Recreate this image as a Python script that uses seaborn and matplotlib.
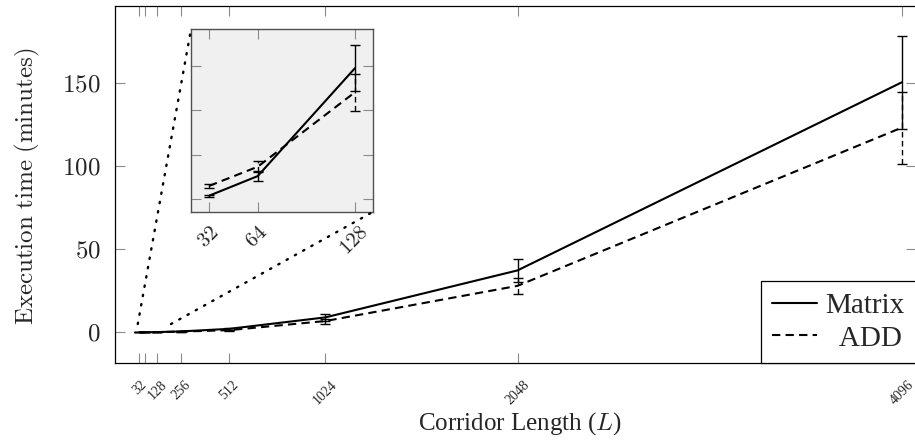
import matplotlib
matplotlib.use("Agg")
import matplotlib.pyplot as plt
import pandas as pd
import seaborn as sns
from matplotlib.patches import ConnectionPatch

corridor_length = [32, 64, 128, 256, 512, 1024, 2048, 4096]
matrix_time = [0.004, 0.026, 0.147, 0.55, 2.1, 9.0, 37.3, 150.6]
matrix_err = [0.001, 0.006, 0.026, 0.1, 0.4, 2.0, 7.0, 27.9]
add_time = [0.015, 0.0365, 0.12, 0.45, 1.3, 6.8, 28.0, 123.3]
add_err = [0.002, 0.006, 0.021, 0.08, 0.3, 1.5, 5.0, 21.7]
x_tick_labels = ["32", "", "128", "256", "512", "1024", "2048", "4096"]
y_ticks = [0, 50, 100, 150]
zoom_ticks = [32, 64, 128]
zoom_y_ticks = [0, 0.05, 0.10, 0.15]

DASH = (0, (4, 2.5))

sns.set_theme(style="ticks")
plt.rcParams["font.family"] = ["Liberation Serif", "DejaVu Serif"]
plt.rcParams["mathtext.fontset"] = "cm"

df = pd.DataFrame({
    "L": corridor_length * 2,
    "time": matrix_time + add_time,
    "err": matrix_err + add_err,
    "method": ["Matrix"] * len(corridor_length) + ["ADD"] * len(corridor_length),
})


def draw_series(ax, data, lw=1.5):
    styles = {"Matrix": "-", "ADD": DASH}
    for name, sub in data.groupby("method", sort=False):
        sns.lineplot(sub, x="L", y="time", color="black", lw=lw,
                     linestyle=styles[name], label=name, ax=ax)
        eb = ax.errorbar(sub["L"], sub["time"], yerr=sub["err"], fmt="none",
                         ecolor="black", elinewidth=1.0, capsize=3.6, capthick=1.0)
        if name == "ADD":
            eb[2][0].set_linestyle(DASH)


fig = plt.figure(figsize=(9.15, 4.41), dpi=100)
W, H = 915, 441

# main axes
ax = fig.add_axes([114.7 / W, 1 - 362.7 / H, (916 - 114.7) / W, (362.7 - 6) / H])
draw_series(ax, df)
ax.set_xlim(-99, 4172)
ax.set_ylim(-18.3, 196.6)
ax.set_xticks(corridor_length)
ax.set_xticklabels(x_tick_labels, rotation=45, ha="center", fontsize=10)
ax.set_yticks(y_ticks)
ax.set_yticklabels([f"${v}$" for v in y_ticks], fontsize=18)
ax.tick_params(direction="in", length=7.5, width=0.8, color="#8a8a8a",
               top=True, right=True)
ax.tick_params(axis="x", pad=11)
ax.tick_params(axis="y", pad=10)
ax.set_xlabel("")
ax.set_ylabel("")
for sp in ax.spines.values():
    sp.set_color("black")
    sp.set_linewidth(0.9)

handles, labels = ax.get_legend_handles_labels()
labels = [lab if lab == "Matrix" else "  " + lab for lab in labels]
leg = ax.legend(handles, labels, loc="lower right", borderaxespad=0, fontsize=21,
                frameon=True, fancybox=False, edgecolor="black", framealpha=1,
                handlelength=1.55, handletextpad=0.3, borderpad=0.38,
                labelspacing=0.22)
leg.get_frame().set_linewidth(0.9)

fig.text(27 / W, 1 - 186 / H, r"$\mathrm{Execution\ time\ (minutes)}$",
         rotation=90, ha="center", va="center", fontsize=18)
fig.text(520 / W, 1 - 424 / H, "Corridor Length ($L$)",
         ha="center", va="center", fontsize=18)

# zoomed inset
axins = fig.add_axes([191 / W, 1 - 211.7 / H, (373.3 - 191) / W, (211.7 - 29.3) / H])
draw_series(axins, df[df["L"] <= max(zoom_ticks)])
axins.set_facecolor("#f0f0f0")
axins.set_xlim(20.1, 140.1)
axins.set_ylim(-0.0139, 0.1906)
axins.set_xticks(zoom_ticks)
axins.set_xticklabels([f"${t}$" for t in zoom_ticks], rotation=45, ha="center", fontsize=15)
axins.set_yticks(zoom_y_ticks)
axins.set_yticklabels([])
axins.tick_params(direction="in", length=7, width=0.8, color="#8a8a8a",
                  top=True, right=True)
axins.tick_params(axis="x", pad=8)
axins.set_xlabel("")
axins.set_ylabel("")
axins.get_legend().remove()
for sp in axins.spines.values():
    sp.set_color("#505050")
    sp.set_linewidth(1.0)

for xy_a, xy_b in [((24, 5), (0, 1)), ((201, 5), (1, 0))]:
    con = ConnectionPatch(xyA=xy_a, coordsA=ax.transData, xyB=xy_b,
                          coordsB=axins.transAxes, color="black", lw=1.7,
                          linestyle=(0, (0.6, 3.4)), capstyle="round")
    fig.add_artist(con)

fig.savefig("out.png", dpi=100)
